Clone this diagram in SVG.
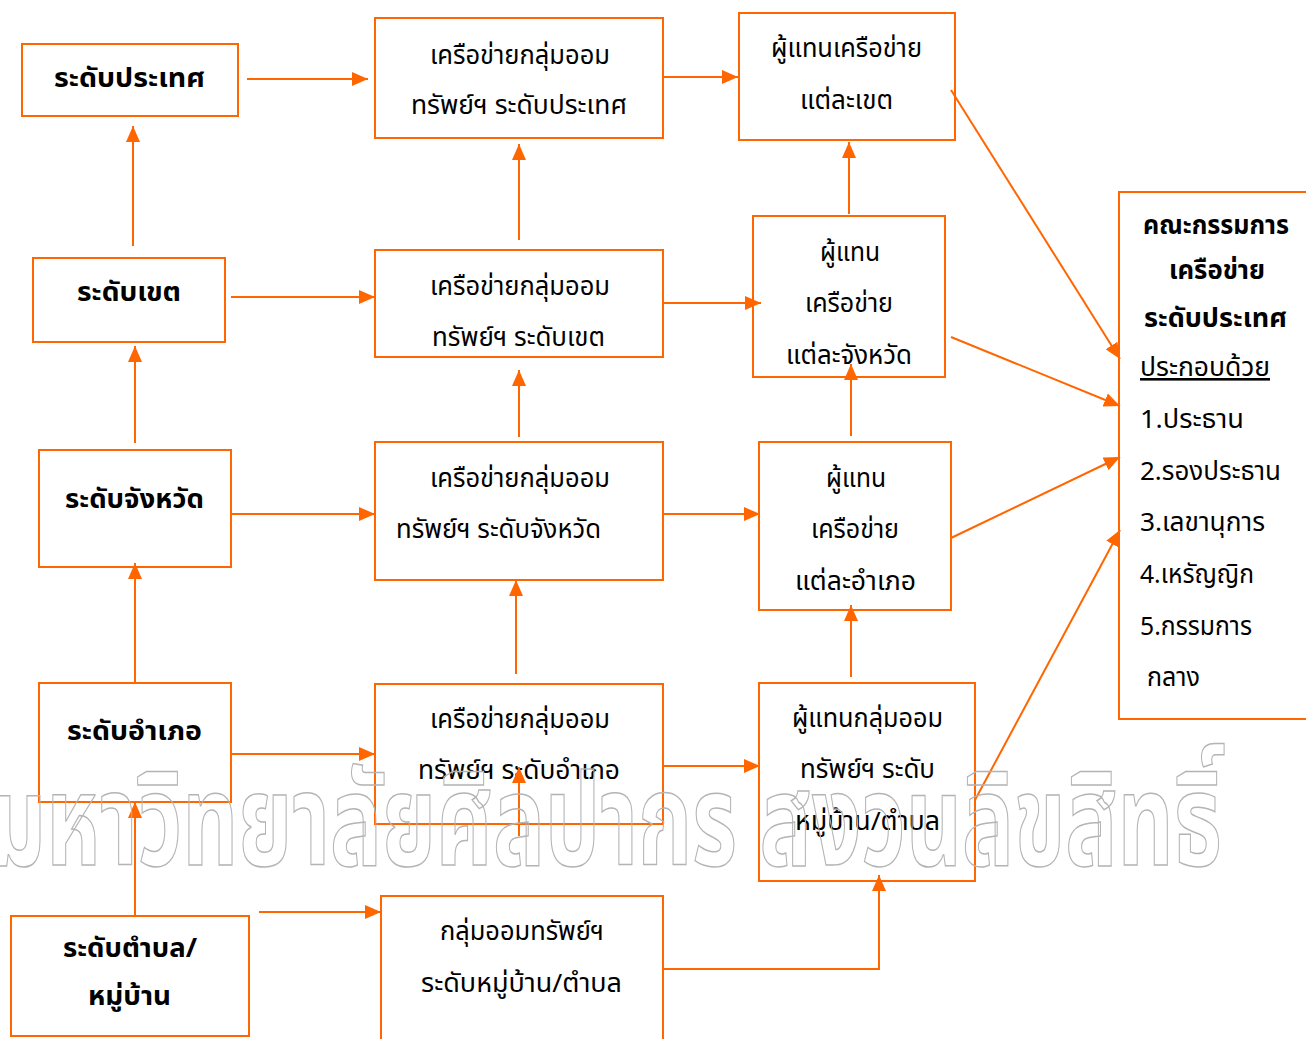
<svg xmlns="http://www.w3.org/2000/svg" width="1306" height="1039" viewBox="0 0 1306 1039">
<defs>
<marker id="ah" viewBox="0 0 16 14" refX="16" refY="7" markerWidth="16" markerHeight="14" orient="auto" markerUnits="userSpaceOnUse"><path d="M0,0 L16,7 L0,14 z" fill="#FF6600"/></marker>
<style>
.box{fill:#fff;stroke:#FF6600;stroke-width:2}
.c line,.c polyline{stroke:#FF6600;stroke-width:2;fill:none;marker-end:url(#ah)}
text{font-family:"Noto Sans Thai","Noto Sans","DejaVu Sans",sans-serif;font-size:26px;fill:#000}
.b{font-weight:bold}
.m{text-anchor:middle}
.wm{fill:none;stroke:#b4b4b4;stroke-width:1.5;font-size:128px;font-weight:bold}
</style>
</defs>
<rect width="1306" height="1039" fill="#fff"/>
<g id="n1"><rect class="box" x="22" y="44" width="216" height="72"/><text class="b" x="54" y="87" textLength="151" lengthAdjust="spacingAndGlyphs">ระดับประเทศ</text></g>
<g id="n2"><rect class="box" x="375" y="18" width="288" height="120"/><text x="430" y="64" textLength="180" lengthAdjust="spacingAndGlyphs">เครือข่ายกลุ่มออม</text><text x="411" y="114" textLength="216" lengthAdjust="spacingAndGlyphs">ทรัพย์ฯ ระดับประเทศ</text></g>
<g id="n3"><rect class="box" x="739" y="13" width="216" height="127"/><text x="771" y="57" textLength="151" lengthAdjust="spacingAndGlyphs">ผู้แทนเครือข่าย</text><text x="800" y="109" textLength="93" lengthAdjust="spacingAndGlyphs">แต่ละเขต</text></g>
<g id="n4"><rect class="box" x="33" y="258" width="192" height="84"/><text class="b" x="77" y="301" textLength="104" lengthAdjust="spacingAndGlyphs">ระดับเขต</text></g>
<g id="n5"><rect class="box" x="375" y="250" width="288" height="107"/><text x="430" y="295" textLength="180" lengthAdjust="spacingAndGlyphs">เครือข่ายกลุ่มออม</text><text x="432" y="346" textLength="173" lengthAdjust="spacingAndGlyphs">ทรัพย์ฯ ระดับเขต</text></g>
<g id="n6"><rect class="box" x="753" y="216" width="192" height="161"/><text x="820" y="261" textLength="60" lengthAdjust="spacingAndGlyphs">ผู้แทน</text><text x="805" y="312" textLength="88" lengthAdjust="spacingAndGlyphs">เครือข่าย</text><text x="786" y="364" textLength="126" lengthAdjust="spacingAndGlyphs">แต่ละจังหวัด</text></g>
<g id="n7"><rect class="box" x="39" y="450" width="192" height="117"/><text class="b" x="65" y="508" textLength="139" lengthAdjust="spacingAndGlyphs">ระดับจังหวัด</text></g>
<g id="n8"><rect class="box" x="375" y="442" width="288" height="138"/><text x="430" y="487" textLength="180" lengthAdjust="spacingAndGlyphs">เครือข่ายกลุ่มออม</text><text x="396" y="538" textLength="205" lengthAdjust="spacingAndGlyphs">ทรัพย์ฯ ระดับจังหวัด</text></g>
<g id="n9"><rect class="box" x="759" y="442" width="192" height="168"/><text x="826" y="487" textLength="60" lengthAdjust="spacingAndGlyphs">ผู้แทน</text><text x="811" y="538" textLength="88" lengthAdjust="spacingAndGlyphs">เครือข่าย</text><text x="795" y="590" textLength="121" lengthAdjust="spacingAndGlyphs">แต่ละอำเภอ</text></g>
<g id="n10"><rect class="box" x="39" y="683" width="192" height="119"/><text class="b" x="67" y="740" textLength="135" lengthAdjust="spacingAndGlyphs">ระดับอำเภอ</text></g>
<g id="n11"><rect class="box" x="375" y="684" width="288" height="140"/><text x="430" y="728" textLength="180" lengthAdjust="spacingAndGlyphs">เครือข่ายกลุ่มออม</text><text x="418" y="779" textLength="202" lengthAdjust="spacingAndGlyphs">ทรัพย์ฯ ระดับอำเภอ</text></g>
<g id="n12"><rect class="box" x="759" y="683" width="216" height="198"/><text x="792" y="727" textLength="151" lengthAdjust="spacingAndGlyphs">ผู้แทนกลุ่มออม</text><text x="800" y="778" textLength="135" lengthAdjust="spacingAndGlyphs">ทรัพย์ฯ ระดับ</text><text x="795" y="830" textLength="145" lengthAdjust="spacingAndGlyphs">หมู่บ้าน/ตำบล</text></g>
<g id="n13"><rect class="box" x="11" y="916" width="238" height="120"/><text class="b" x="63" y="957" textLength="134" lengthAdjust="spacingAndGlyphs">ระดับตำบล/</text><text class="b" x="88" y="1005" textLength="83" lengthAdjust="spacingAndGlyphs">หมู่บ้าน</text></g>
<g id="n14"><rect class="box" x="381" y="896" width="282" height="150"/><text x="440" y="940" textLength="164" lengthAdjust="spacingAndGlyphs">กลุ่มออมทรัพย์ฯ</text><text x="421" y="992" textLength="201" lengthAdjust="spacingAndGlyphs">ระดับหมู่บ้าน/ตำบล</text></g>
<g id="n15"><rect class="box" x="1119" y="192" width="200" height="527"/>
<text class="b" x="1143" y="234" textLength="146" lengthAdjust="spacingAndGlyphs">คณะกรรมการ</text>
<text class="b" x="1169" y="279" textLength="96" lengthAdjust="spacingAndGlyphs">เครือข่าย</text>
<text class="b" x="1144" y="327" textLength="143" lengthAdjust="spacingAndGlyphs">ระดับประเทศ</text>
<text x="1140" y="376" textLength="130" lengthAdjust="spacingAndGlyphs" text-decoration="underline">ประกอบด้วย</text>
<text x="1140" y="428" textLength="104" lengthAdjust="spacingAndGlyphs">1.ประธาน</text>
<text x="1140" y="480" textLength="141" lengthAdjust="spacingAndGlyphs">2.รองประธาน</text>
<text x="1140" y="531" textLength="125" lengthAdjust="spacingAndGlyphs">3.เลขานุการ</text>
<text x="1140" y="583" textLength="114" lengthAdjust="spacingAndGlyphs">4.เหรัญญิก</text>
<text x="1140" y="635" textLength="112" lengthAdjust="spacingAndGlyphs">5.กรรมการ</text>
<text x="1147" y="686" textLength="53" lengthAdjust="spacingAndGlyphs">กลาง</text>
</g>
<g class="c" id="connectors">
<line x1="247" y1="79" x2="368" y2="79"/>
<line x1="663" y1="77" x2="738" y2="77"/>
<line x1="519" y1="240" x2="519" y2="144"/>
<line x1="133" y1="246" x2="133" y2="126"/>
<line x1="231" y1="297" x2="375" y2="297"/>
<line x1="663" y1="303" x2="761" y2="303"/>
<line x1="849" y1="214" x2="849" y2="142"/>
<line x1="951" y1="90" x2="1120" y2="359"/>
<line x1="951" y1="337" x2="1120" y2="406"/>
<line x1="135" y1="443" x2="135" y2="346"/>
<line x1="519" y1="437" x2="519" y2="370"/>
<line x1="231" y1="514" x2="375" y2="514"/>
<line x1="663" y1="514" x2="760" y2="514"/>
<line x1="851" y1="436" x2="851" y2="364"/>
<line x1="135" y1="683" x2="135" y2="563"/>
<line x1="516" y1="674" x2="516" y2="580"/>
<line x1="231" y1="754" x2="375" y2="754"/>
<line x1="663" y1="766" x2="760" y2="766"/>
<line x1="851" y1="677" x2="851" y2="605"/>
<line x1="975" y1="800" x2="1120" y2="530"/>
<line x1="951" y1="538" x2="1120" y2="457"/>
<line x1="135" y1="916" x2="135" y2="802"/>
<line x1="519" y1="836" x2="519" y2="767"/>
<line x1="259" y1="912" x2="381" y2="912"/>
<polyline points="663,969 879,969 879,875"/>
</g>
<text class="wm" x="-10" y="865" textLength="1232" lengthAdjust="spacingAndGlyphs">มหาวิทยาลัยศิลปากร สงวนลิขสิทธิ์</text>
</svg>
